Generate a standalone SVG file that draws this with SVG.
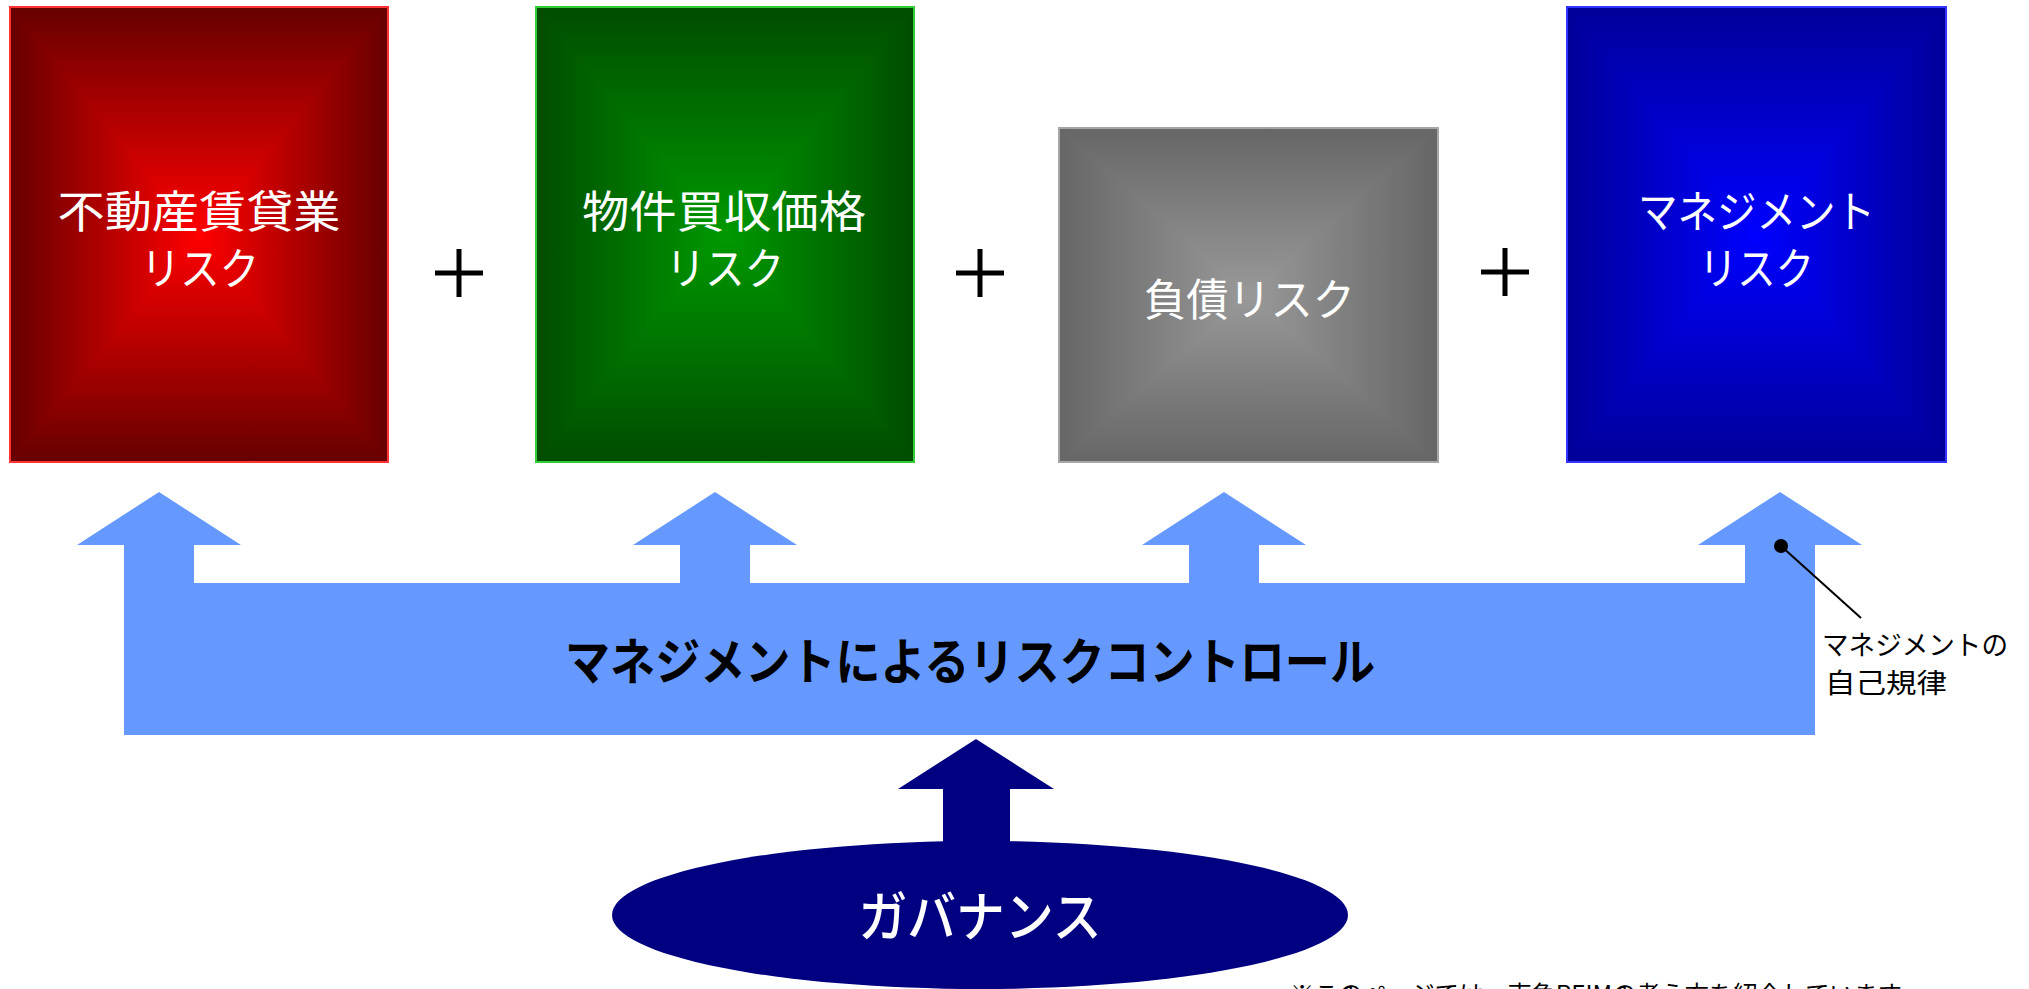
<svg xmlns="http://www.w3.org/2000/svg" width="2029" height="989" viewBox="0 0 2029 989">
<defs>
<linearGradient id="rT" x1="0" y1="0" x2="0" y2="1"><stop offset="0" stop-color="#660000"/><stop offset="1" stop-color="#FF0000"/></linearGradient>
<linearGradient id="rB" x1="0" y1="1" x2="0" y2="0"><stop offset="0" stop-color="#660000"/><stop offset="1" stop-color="#FF0000"/></linearGradient>
<linearGradient id="rL" x1="0" y1="0" x2="1" y2="0"><stop offset="0" stop-color="#660000"/><stop offset="1" stop-color="#FF0000"/></linearGradient>
<linearGradient id="rR" x1="1" y1="0" x2="0" y2="0"><stop offset="0" stop-color="#660000"/><stop offset="1" stop-color="#FF0000"/></linearGradient>
<linearGradient id="gT" x1="0" y1="0" x2="0" y2="1"><stop offset="0" stop-color="#004C00"/><stop offset="1" stop-color="#009900"/></linearGradient>
<linearGradient id="gB" x1="0" y1="1" x2="0" y2="0"><stop offset="0" stop-color="#004C00"/><stop offset="1" stop-color="#009900"/></linearGradient>
<linearGradient id="gL" x1="0" y1="0" x2="1" y2="0"><stop offset="0" stop-color="#004C00"/><stop offset="1" stop-color="#009900"/></linearGradient>
<linearGradient id="gR" x1="1" y1="0" x2="0" y2="0"><stop offset="0" stop-color="#004C00"/><stop offset="1" stop-color="#009900"/></linearGradient>
<linearGradient id="kT" x1="0" y1="0" x2="0" y2="1"><stop offset="0" stop-color="#666666"/><stop offset="1" stop-color="#999999"/></linearGradient>
<linearGradient id="kB" x1="0" y1="1" x2="0" y2="0"><stop offset="0" stop-color="#666666"/><stop offset="1" stop-color="#999999"/></linearGradient>
<linearGradient id="kL" x1="0" y1="0" x2="1" y2="0"><stop offset="0" stop-color="#666666"/><stop offset="1" stop-color="#999999"/></linearGradient>
<linearGradient id="kR" x1="1" y1="0" x2="0" y2="0"><stop offset="0" stop-color="#666666"/><stop offset="1" stop-color="#999999"/></linearGradient>
<linearGradient id="bT" x1="0" y1="0" x2="0" y2="1"><stop offset="0" stop-color="#000099"/><stop offset="1" stop-color="#0000FF"/></linearGradient>
<linearGradient id="bB" x1="0" y1="1" x2="0" y2="0"><stop offset="0" stop-color="#000099"/><stop offset="1" stop-color="#0000FF"/></linearGradient>
<linearGradient id="bL" x1="0" y1="0" x2="1" y2="0"><stop offset="0" stop-color="#000099"/><stop offset="1" stop-color="#0000FF"/></linearGradient>
<linearGradient id="bR" x1="1" y1="0" x2="0" y2="0"><stop offset="0" stop-color="#000099"/><stop offset="1" stop-color="#0000FF"/></linearGradient>
</defs>
<style>
text{font-family:"Noto Sans CJK JP","Noto Sans",sans-serif;text-anchor:middle}
.box{fill:#ffffff;font-size:44px}
.plus{stroke:#000;stroke-width:5;fill:none}
.frame{fill:none;stroke-width:2}
polygon{stroke-width:1.5;stroke-linejoin:round}
</style>
<rect width="2029" height="989" fill="#ffffff"/>

<g id="node-red">
<polygon points="10,7 388,7 199,234.5" fill="url(#rT)" stroke="url(#rT)"/>
<polygon points="10,462 388,462 199,234.5" fill="url(#rB)" stroke="url(#rB)"/>
<polygon points="10,7 10,462 199,234.5" fill="url(#rL)" stroke="url(#rL)"/>
<polygon points="388,7 388,462 199,234.5" fill="url(#rR)" stroke="url(#rR)"/>
<rect class="frame" x="10" y="7" width="378" height="455" stroke="#FF3333"/>
<text class="box" x="199" y="228" textLength="283" lengthAdjust="spacingAndGlyphs">不動産賃貸業</text>
<text class="box" x="200" y="285" textLength="118" lengthAdjust="spacingAndGlyphs">リスク</text>
</g>

<g id="node-green">
<polygon points="536,7 914,7 725,234.5" fill="url(#gT)" stroke="url(#gT)"/>
<polygon points="536,462 914,462 725,234.5" fill="url(#gB)" stroke="url(#gB)"/>
<polygon points="536,7 536,462 725,234.5" fill="url(#gL)" stroke="url(#gL)"/>
<polygon points="914,7 914,462 725,234.5" fill="url(#gR)" stroke="url(#gR)"/>
<rect class="frame" x="536" y="7" width="378" height="455" stroke="#33CC33"/>
<text class="box" x="724" y="228" textLength="284" lengthAdjust="spacingAndGlyphs">物件買収価格</text>
<text class="box" x="725" y="285" textLength="118" lengthAdjust="spacingAndGlyphs">リスク</text>
</g>

<g id="node-gray">
<polygon points="1059,128 1438,128 1248.5,295" fill="url(#kT)" stroke="url(#kT)"/>
<polygon points="1059,462 1438,462 1248.5,295" fill="url(#kB)" stroke="url(#kB)"/>
<polygon points="1059,128 1059,462 1248.5,295" fill="url(#kL)" stroke="url(#kL)"/>
<polygon points="1438,128 1438,462 1248.5,295" fill="url(#kR)" stroke="url(#kR)"/>
<rect class="frame" x="1059" y="128" width="379" height="334" stroke="#A6A6A6"/>
<text class="box" x="1249.5" y="316" textLength="211" lengthAdjust="spacingAndGlyphs">負債リスク</text>
</g>

<g id="node-blue">
<polygon points="1567,7 1946,7 1756.5,234.5" fill="url(#bT)" stroke="url(#bT)"/>
<polygon points="1567,462 1946,462 1756.5,234.5" fill="url(#bB)" stroke="url(#bB)"/>
<polygon points="1567,7 1567,462 1756.5,234.5" fill="url(#bL)" stroke="url(#bL)"/>
<polygon points="1946,7 1946,462 1756.5,234.5" fill="url(#bR)" stroke="url(#bR)"/>
<rect class="frame" x="1567" y="7" width="379" height="455" stroke="#3333FF"/>
<text class="box" x="1756.5" y="228" textLength="237" lengthAdjust="spacingAndGlyphs">マネジメント</text>
<text class="box" x="1756.5" y="285" textLength="115" lengthAdjust="spacingAndGlyphs">リスク</text>
</g>

<g id="plus-signs">
<path class="plus" d="M435,273 H483 M459,249 V297"/>
<path class="plus" d="M956,273 H1004 M980,249 V297"/>
<path class="plus" d="M1481,272 H1529 M1505,248 V296"/>
</g>

<g id="node-control">
<path fill="#6699FF" d="M124,735 L124,545 L77,545 L159,492 L241,545 L194,545 L194,583 L680,583 L680,545 L633,545 L715,492 L797,545 L750,545 L750,583 L1189,583 L1189,545 L1142,545 L1224,492 L1306,545 L1259,545 L1259,583 L1745,583 L1745,545 L1698,545 L1780,492 L1862,545 L1815,545 L1815,735 Z"/>
<text x="970" y="680" font-size="50" font-weight="bold" fill="#000" textLength="810" lengthAdjust="spacingAndGlyphs">マネジメントによるリスクコントロール</text>
</g>

<g id="node-governance">
<path fill="#000080" d="M943,870 L943,789 L898,789 L976,739 L1054,789 L1010,789 L1010,870 Z"/>
<ellipse cx="980" cy="915" rx="368" ry="74" fill="#000080"/>
<text x="980" y="937" font-size="54" font-weight="500" fill="#ffffff" textLength="243" lengthAdjust="spacingAndGlyphs">ガバナンス</text>
</g>

<g id="connectors">
<line x1="1781" y1="546" x2="1861" y2="618" stroke="#000" stroke-width="2"/>
<circle cx="1781" cy="546" r="7" fill="#000"/>
</g>

<g id="note-self-discipline">
<text x="1822" y="655" font-size="27" fill="#000" style="text-anchor:start" textLength="186" lengthAdjust="spacingAndGlyphs">マネジメントの</text>
<text x="1825" y="693" font-size="27" fill="#000" style="text-anchor:start" textLength="122" lengthAdjust="spacingAndGlyphs">自己規律</text>
</g>

<g id="footnote">
<text x="1290" y="1003" font-size="24" fill="#000" style="text-anchor:start" textLength="612" lengthAdjust="spacingAndGlyphs">※このページでは、東急REIMの考え方を紹介しています</text>
</g>
</svg>
